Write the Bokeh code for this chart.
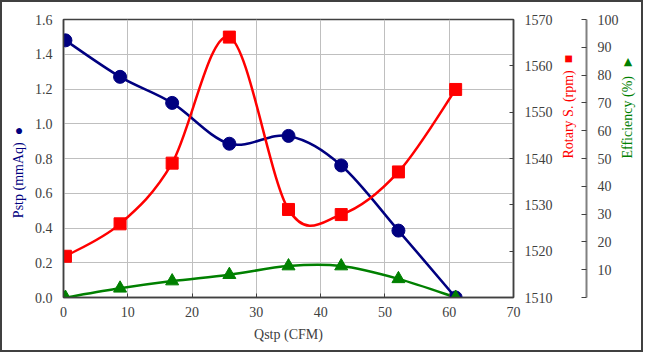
import math
from bokeh.plotting import figure
from bokeh.models import (Range1d, LinearAxis, FixedTicker, PrintfTickFormatter,
                          ColumnDataSource)
from bokeh.embed import file_html
from bokeh.resources import INLINE

# ---- data ----
qstp = [0.3, 8.8, 16.9, 25.8, 35.0, 43.2, 52.1, 61.0]
pstp = [1.48, 1.27, 1.12, 0.885, 0.93, 0.76, 0.385, 0.0]
rpm = [1518.9, 1525.9, 1539.0, 1566.2, 1529.0, 1527.9, 1537.1, 1554.9]
eff = [0.0, 3.3, 5.9, 8.2, 11.3, 11.3, 6.7, 0.0]

x_ticks = [0, 10, 20, 30, 40, 50, 60, 70]
p_ticks = [0.0, 0.2, 0.4, 0.6, 0.8, 1.0, 1.2, 1.4, 1.6]
rpm_ticks = [1510, 1520, 1530, 1540, 1550, 1560, 1570]
eff_ticks = [0, 10, 20, 30, 40, 50, 60, 70, 80, 90, 100]

x_title = "Qstp (CFM)"
p_title = "Pstp (mmAq)"
rpm_title = "Rotary S. (rpm)"
eff_title = "Efficiency (%)"

NAVY = "#000080"
RED = "#FF0000"
GREEN = "#008000"
GRAY = "#404040"
FONT = "'Liberation Serif', 'Times New Roman', serif"
NB = "\u00A0"


def smooth(xs, ys):
    """Bezier segments (Catmull-Rom style smoothing) through the data points."""
    n = len(xs)
    d = dict(x0=[], y0=[], x1=[], y1=[], cx0=[], cy0=[], cx1=[], cy1=[])
    for i in range(n - 1):
        xm, ym = (xs[i - 1], ys[i - 1]) if i > 0 else (xs[i], ys[i])
        xp, yp = (xs[i + 2], ys[i + 2]) if i + 2 < n else (xs[i + 1], ys[i + 1])
        d["x0"].append(xs[i]); d["y0"].append(ys[i])
        d["x1"].append(xs[i + 1]); d["y1"].append(ys[i + 1])
        d["cx0"].append(xs[i] + (xs[i + 1] - xm) / 6)
        d["cy0"].append(ys[i] + (ys[i + 1] - ym) / 6)
        d["cx1"].append(xs[i + 1] - (xp - xs[i]) / 6)
        d["cy1"].append(ys[i + 1] - (yp - ys[i]) / 6)
    return ColumnDataSource(d)


p = figure(width=643, height=352, output_backend="svg", toolbar_location=None,
           x_range=Range1d(0, 70), y_range=Range1d(0, 1.6),
           min_border_left=61, min_border_right=123, min_border_top=17,
           min_border_bottom=57,
           styles={"border": "2px solid #404040"})
p.extra_y_ranges = {"rpm": Range1d(1510, 1570), "eff": Range1d(0, 100)}
p.background_fill_color = "white"
p.border_fill_color = "white"
p.outline_line_color = GRAY
p.outline_line_width = 1.5

# grids
p.xgrid.ticker = FixedTicker(ticks=x_ticks[1:-1])
p.ygrid.ticker = FixedTicker(ticks=p_ticks[1:-1])
for g in (p.xgrid, p.ygrid):
    g.grid_line_color = "#BFBFBF"
    g.grid_line_width = 1

has_orient = "axis_label_orientation" in LinearAxis.properties()

# x axis
xa = p.xaxis[0]
xa.ticker = FixedTicker(ticks=x_ticks)
xa.major_tick_in = 4
xa.major_tick_out = 0
xa.minor_tick_line_color = None
xa.major_label_standoff = 9
xa.axis_label = x_title
xa.axis_label_standoff = 7
xa.axis_label_text_color = GRAY

# left axis
ya = p.yaxis[0]
ya.ticker = FixedTicker(ticks=p_ticks)
ya.formatter = PrintfTickFormatter(format="%.1f")
ya.major_tick_in = 0
ya.major_tick_out = 0
ya.minor_tick_line_color = None
ya.major_label_standoff = 11
ya.axis_label = p_title + NB * 2 + "\u25CF" + NB * 8
ya.axis_label_standoff = 6
ya.axis_label_text_color = NAVY

# rpm axis
ra = LinearAxis(y_range_name="rpm", ticker=FixedTicker(ticks=rpm_ticks))
ra.major_tick_in = 4
ra.major_tick_out = 0
ra.minor_tick_line_color = None
ra.major_label_standoff = 11
ra.axis_label = rpm_title + NB * 2 + "\u25A0" + NB * 3
ra.axis_label_standoff = 13
ra.axis_label_text_color = RED
p.add_layout(ra, "right")

# efficiency axis
ea = LinearAxis(y_range_name="eff", ticker=FixedTicker(ticks=eff_ticks))
ea.major_label_overrides = {0: ""}
ea.major_tick_in = 5
ea.major_tick_out = 0
ea.minor_tick_line_color = None
ea.major_label_standoff = 11
ea.axis_line_color = "#808080"
ea.axis_line_width = 2
ea.axis_label = eff_title + NB * 2 + ("\u25BA" if has_orient else "\u25C4") + NB
ea.axis_label_standoff = 6
ea.axis_label_text_color = GREEN
p.add_layout(ea, "right")

if has_orient:
    for a in (ra, ea):
        a.axis_label_orientation = math.pi / 2
        a.axis_label_text_align = "center"

for a in (xa, ya, ra, ea):
    a.major_label_text_font = FONT
    a.major_label_text_font_size = "14px"
    a.major_label_text_color = GRAY
    a.axis_label_text_font = FONT
    a.axis_label_text_font_style = "normal"
    a.axis_label_text_font_size = "14px"
    if a is not ea:
        a.axis_line_color = GRAY
        a.axis_line_width = 1.5
    a.major_tick_line_color = GRAY

# series
p.bezier(x0="x0", y0="y0", x1="x1", y1="y1", cx0="cx0", cy0="cy0", cx1="cx1",
         cy1="cy1", source=smooth(qstp, pstp), line_color=NAVY, line_width=2.5)
p.bezier(x0="x0", y0="y0", x1="x1", y1="y1", cx0="cx0", cy0="cy0", cx1="cx1",
         cy1="cy1", source=smooth(qstp, rpm), line_color=RED, line_width=2.5,
         y_range_name="rpm")
p.bezier(x0="x0", y0="y0", x1="x1", y1="y1", cx0="cx0", cy0="cy0", cx1="cx1",
         cy1="cy1", source=smooth(qstp, eff), line_color=GREEN, line_width=2.5,
         y_range_name="eff")

p.scatter(qstp, pstp, marker="circle", size=13, fill_color=NAVY, line_color=NAVY)
p.scatter(qstp, rpm, marker="square", size=12, fill_color=RED, line_color=RED,
          y_range_name="rpm")
p.scatter(qstp, eff, marker="triangle", size=13, fill_color=GREEN,
          line_color=GREEN, y_range_name="eff")

open("out.html", "w").write(file_html(p, INLINE))
